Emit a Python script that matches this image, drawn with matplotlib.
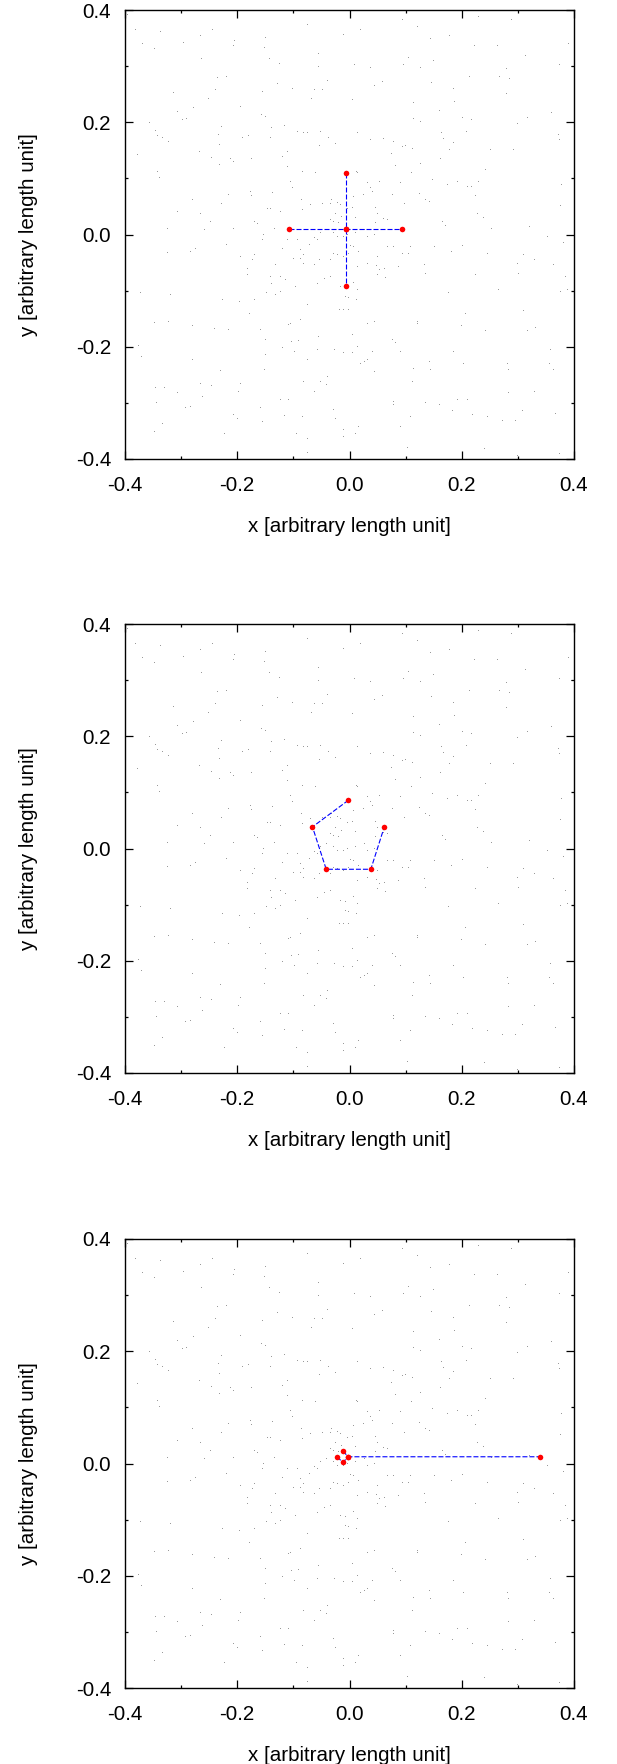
import numpy as np
import matplotlib
matplotlib.use("Agg")
import matplotlib.pyplot as plt

plt.rcParams['font.family'] = ['Liberation Sans', 'DejaVu Sans']
plt.rcParams['axes.unicode_minus'] = False

# background particles (reused for all three)
dots_x = [
    -0.396, -0.383, -0.369, -0.348, -0.337, -0.296, -0.266, -0.245, -0.264, -0.208, -0.206, -0.150, -0.153,
    -0.144, -0.125, -0.076, -0.056, -0.057, -0.012, 0.018, 0.008, 0.037, 0.093, 0.120, 0.105, 0.095, 0.149,
    0.125, 0.143, 0.178, 0.229, 0.287, 0.221, 0.263, 0.312, 0.390, 0.374, 0.394, 0.279,
    -0.315, -0.307, -0.299, -0.291, -0.278, -0.253, -0.240, -0.236, -0.220, -0.195, -0.156, -0.129, -0.103,
    -0.064, -0.068, -0.040, -0.049, 0.004, 0.043, 0.058, 0.114, 0.145, 0.159, 0.185, 0.187, 0.213, 0.266,
    0.285, 0.279, 0.317, 0.359, -0.358, -0.158, -0.150,
    -0.346, -0.343, -0.334, -0.323, -0.379, -0.269, -0.247, -0.235, -0.229, -0.232, -0.233, -0.213, -0.207,
    -0.192, -0.180, -0.176, -0.140, -0.141, -0.116, -0.121, -0.112, -0.093, -0.083, -0.076, -0.055, -0.052,
    -0.039, -0.026, 0.013, 0.037, 0.059, 0.074, 0.078, 0.093, 0.099, 0.112, 0.114, 0.126, 0.163, 0.166,
    0.184, 0.178, 0.201, 0.217, 0.208, 0.251, 0.291, 0.298, 0.372, 0.374, 0.126, 0.081, 0.109, 0.162,
    -0.343, -0.339, -0.281, -0.307, -0.266, -0.229, -0.216, -0.248, -0.259, -0.207, -0.177, -0.176, -0.138,
    -0.147, -0.141, -0.124, -0.112, -0.103, -0.106, -0.085, -0.086, -0.061, -0.084, -0.071, -0.049, -0.034,
    -0.033, -0.023, -0.017, -0.025, -0.034, -0.029, -0.020, -0.015, -0.005, 0.004, 0.010, 0.007, 0.012,
    0.013, 0.024, 0.031, 0.037, 0.040, 0.052, 0.046, 0.049, 0.046, 0.059, 0.067, 0.075, 0.090, 0.097,
    0.123, 0.135, 0.141, 0.147, 0.173, 0.191, 0.209, 0.217, 0.229, 0.224, 0.241, 0.238, 0.227, 0.164,
    0.170, 0.252, 0.319, 0.352, 0.376, 0.375, 0.380,
    -0.171, -0.165, -0.154, -0.156, -0.135, -0.121, -0.112, -0.094, -0.088, -0.082, -0.073, -0.064, -0.058,
    -0.052, -0.042, -0.029, -0.023, -0.011, -0.005, 0.010, 0.025, 0.031, 0.043, 0.007, 0.016, -0.029,
    -0.034, -0.023, -0.011, 0.001, -0.002, 0.049, 0.067, 0.078, 0.093, 0.105, 0.108, 0.087, 0.048, 0.052,
    0.061, 0.049, 0.064, 0.031, 0.013, -0.064, -0.055, -0.088, -0.082, -0.100, -0.132, -0.141, -0.124,
    -0.171, -0.174, -0.183, -0.183, -0.195, -0.220, -0.275, -0.284, -0.325, -0.325, 0.181, 0.200, 0.245,
    0.224, 0.298, 0.301, 0.329, 0.362, 0.310, 0.384, 0.132, 0.135, 0.150,
    -0.374, -0.320, -0.227, -0.196, -0.179, -0.170, -0.149, -0.140, -0.132, -0.124, -0.115, -0.097, -0.058,
    -0.046, -0.034, -0.017, -0.008, -0.008, 0.007, 0.013, -0.002, 0.011, -0.011, -0.018, -0.002, -0.076,
    -0.088, -0.106, -0.109, 0.031, 0.044, 0.120, 0.121, 0.176, 0.198, 0.206, 0.242, 0.265, 0.310, 0.316,
    0.331, 0.375, 0.388, -0.349, -0.323, -0.242, -0.217, -0.281, -0.159,
    -0.376, -0.371, -0.281, -0.230, -0.195, -0.151, -0.151, -0.153, -0.121, -0.098, -0.104, -0.091, -0.076,
    -0.058, -0.056, -0.040, -0.042, -0.027, -0.012, 0.004, 0.004, 0.013, 0.019, 0.025, 0.031, 0.040, 0.044,
    0.075, 0.081, 0.090, 0.113, 0.111, 0.141, 0.144, 0.185, 0.203, 0.280, 0.282, 0.328, 0.355, 0.362,
    0.357, -0.346, -0.331, -0.308, -0.266, -0.262, -0.247, -0.198, -0.124, -0.116, -0.109, -0.085, -0.082,
    -0.064, -0.052, -0.029, -0.026, -0.011, -0.011, 0.010, 0.016, 0.090, 0.077, 0.078, 0.108, 0.135, 0.159,
    0.182, 0.191, 0.209, 0.218, 0.245, 0.271, 0.283, 0.295, 0.307, 0.366, -0.344, -0.334, -0.349, -0.293,
    -0.284, -0.207, -0.201, -0.156, -0.159, -0.223, -0.095, -0.075, -0.076, 0.103, 0.240, 0.298, 0.374,
]
dots_y = [
    0.391, 0.364, 0.340, 0.330, 0.360, 0.342, 0.353, 0.365, 0.312, 0.336, 0.345, 0.350, 0.333,
    0.312, 0.303, 0.373, 0.321, 0.298, 0.355, 0.364, 0.302, 0.296, 0.383, 0.369, 0.314, 0.302, 0.310,
    0.296, 0.349, 0.353, 0.388, 0.383, 0.335, 0.335, 0.318, 0.339, 0.302, 0.299, 0.295,
    0.253, 0.218, 0.204, 0.205, 0.225, 0.241, 0.257, 0.279, 0.281, 0.228, 0.254, 0.269, 0.260,
    0.258, 0.241, 0.273, 0.257, 0.239, 0.264, 0.271, 0.235, 0.270, 0.220, 0.260, 0.236, 0.280, 0.280,
    0.277, 0.251, 0.208, 0.216, 0.199, 0.213, 0.210,
    0.185, 0.175, 0.172, 0.165, 0.141, 0.147, 0.137, 0.178, 0.191, 0.160, 0.123, 0.135, 0.130,
    0.172, 0.175, 0.135, 0.189, 0.172, 0.193, 0.138, 0.147, 0.183, 0.181, 0.181, 0.158, 0.183,
    0.172, 0.161, 0.180, 0.168, 0.171, 0.144, 0.165, 0.156, 0.158, 0.153, 0.205, 0.200, 0.180, 0.171,
    0.163, 0.150, 0.207, 0.204, 0.183, 0.151, 0.151, 0.196, 0.178, 0.168, 0.125, 0.122, 0.109, 0.134,
    0.112, 0.100, 0.062, 0.040, 0.037, 0.055, 0.070, 0.023, 0.008, 0.009, 0.076, 0.069, 0.074,
    0.045, 0.046, 0.040, 0.121, 0.082, 0.094, 0.112, 0.062, 0.109, 0.043, 0.053, 0.054, 0.055,
    0.062, 0.056, 0.052, 0.037, 0.026, 0.023, 0.021, 0.031, 0.045, 0.048, 0.030, 0.067, 0.112,
    0.109, 0.070, 0.092, 0.082, 0.076, 0.094, 0.048, 0.037, 0.020, 0.027, 0.026, 0.071, 0.091, 0.055,
    0.073, 0.062, 0.058, 0.097, 0.088, 0.094, 0.085, 0.085, 0.094, 0.068, 0.115, 0.029, 0.037, 0.023,
    0.015, 0.009, 0.014, -0.004, 0.089, 0.051, -0.015,
    0.023, 0.018, -0.001, -0.010, 0.009, -0.025, -0.010, -0.010, -0.028, -0.037, -0.019, -0.006, -0.010,
    0.002, 0.008, 0.002, -0.005, -0.004, -0.001, 0.002, 0.008, -0.005, -0.001, -0.022, -0.031, -0.034,
    -0.046, -0.037, -0.040, -0.021, -0.034, -0.040, -0.022, -0.023, -0.034, -0.034, -0.022, -0.058, -0.056, -0.064,
    -0.062, -0.072, -0.078, -0.052, -0.058, -0.055, -0.046, -0.043, -0.052, -0.043, -0.055, -0.075, -0.075,
    -0.037, -0.046, -0.061, -0.072, -0.040, -0.019, -0.025, -0.032, -0.033, 0.009, -0.032, -0.020, -0.035,
    -0.072, -0.052, -0.070, -0.046, -0.055, -0.037, -0.075, -0.055, -0.071, -0.022,
    -0.105, -0.108, -0.117, -0.120, -0.141, -0.117, -0.105, -0.089, -0.108, -0.102, -0.081, -0.093, -0.089,
    -0.080, -0.075, -0.093, -0.096, -0.111, -0.086, -0.099, -0.114, -0.116, -0.134, -0.134, -0.134, -0.126,
    -0.152, -0.160, -0.162, -0.159, -0.156, -0.156, -0.159, -0.105, -0.163, -0.141, -0.172, -0.099, -0.136, -0.172,
    -0.166, -0.102, -0.099, -0.157, -0.156, -0.168, -0.170, -0.163, -0.170,
    -0.199, -0.218, -0.223, -0.243, -0.266, -0.188, -0.215, -0.242, -0.203, -0.209, -0.191, -0.190, -0.224,
    -0.206, -0.182, -0.254, -0.269, -0.206, -0.212, -0.179, -0.212, -0.200, -0.230, -0.227, -0.224, -0.209, -0.245,
    -0.188, -0.194, -0.209, -0.239, -0.263, -0.227, -0.242, -0.209, -0.231, -0.230, -0.241, -0.280, -0.230, -0.242,
    -0.206, -0.273, -0.273, -0.283, -0.266, -0.290, -0.270, -0.280, -0.295, -0.324, -0.295, -0.325, -0.263,
    -0.280, -0.263, -0.313, -0.328, -0.349, -0.361, -0.355, -0.343, -0.343, -0.298, -0.304, -0.325, -0.301, -0.304,
    -0.314, -0.295, -0.295, -0.322, -0.326, -0.332, -0.283, -0.332, -0.314, -0.319, -0.301, -0.337, -0.352, -0.310,
    -0.308, -0.322, -0.328, -0.334, -0.310, -0.356, -0.355, -0.365, -0.390, -0.381, -0.383, -0.395, -0.391,
]

# red particles per panel (drawn as polyline order)
cross_x = [-0.107, -0.007, 0.093]
cross_y = [0.009, 0.009, 0.009]
cross_vx = [-0.007, -0.007, -0.007]
cross_vy = [0.109, 0.009, -0.091]

penta_x = [-0.002, -0.066, -0.0415, 0.038, 0.062]
penta_y = [0.086, 0.0385, -0.037, -0.037, 0.0385]

escape_x = [-0.012, -0.002, 0.339]
escape_y = [0.022, 0.012, 0.012]
escape_bx = [-0.022, -0.012, -0.002]
escape_by = [0.012, 0.002, 0.012]

fig = plt.figure(figsize=(6.17, 17.64), dpi=100)
bottoms = [1 - 459 / 1764, 1 - 1073 / 1764, 1 - 1688 / 1764]
axes = [fig.add_axes([125 / 617, b, 449 / 617, 449 / 1764]) for b in bottoms]

dash = (0, (4.5, 1.8))
blue = '#0000ff'
red = '#ff0000'

def style(ax):
    ax.plot(dots_x, dots_y, ',', color='#9a9a9a', zorder=1)
    ax.set_xlim(-0.4, 0.4)
    ax.set_ylim(-0.4, 0.4)
    ticks = [-0.4, -0.2, 0.0, 0.2, 0.4]
    ax.set_xticks(ticks)
    ax.set_yticks(ticks)
    ax.set_xticks([-0.3, -0.1, 0.1, 0.3], minor=True)
    ax.set_yticks([-0.3, -0.1, 0.1, 0.3], minor=True)
    ax.set_xticklabels(['%.1f' % t for t in ticks])
    ax.set_yticklabels(['%.1f' % t for t in ticks])
    ax.tick_params(which='both', direction='in', top=True, right=True, labelsize=14.8, width=0.9)
    ax.tick_params(which='major', length=5.5)
    ax.tick_params(which='minor', length=2.5)
    ax.tick_params(axis='x', pad=12)
    ax.tick_params(axis='y', pad=10)
    for s in ax.spines.values():
        s.set_linewidth(1.0)
    ax.set_xlabel('x [arbitrary length unit]', fontsize=14.8, labelpad=16)
    ax.set_ylabel('y [arbitrary length unit]', fontsize=14.8, labelpad=27)

for ax in axes:
    style(ax)

ax = axes[0]
ax.plot(cross_x, cross_y, linestyle=dash, color=blue, lw=0.8, zorder=2)
ax.plot(cross_vx, cross_vy, linestyle=dash, color=blue, lw=0.8, zorder=2)
ax.plot(cross_x + cross_vx, cross_y + cross_vy, 'o', color=red, ms=4, mew=0, zorder=3)

ax = axes[1]
ax.plot(penta_x, penta_y, linestyle=dash, color=blue, lw=0.8, zorder=2)
ax.plot(penta_x, penta_y, 'o', color=red, ms=4, mew=0, zorder=3)

ax = axes[2]
ax.plot(escape_x, escape_y, linestyle=dash, color=blue, lw=0.8, zorder=2)
ax.plot(escape_bx, escape_by, linestyle=dash, color=blue, lw=0.8, zorder=2)
ax.plot(escape_x + escape_bx, escape_y + escape_by, 'o', color=red, ms=4, mew=0, zorder=3)

fig.savefig('out.png', dpi=100)
